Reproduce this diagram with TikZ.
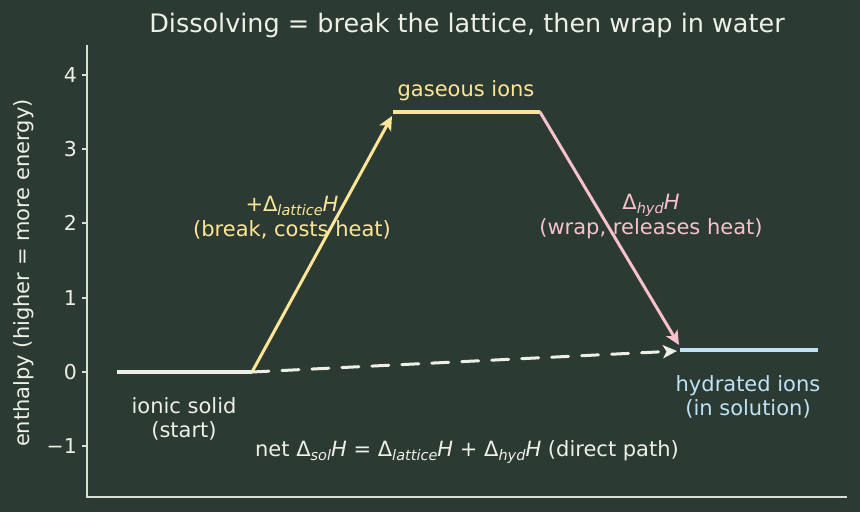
\documentclass[tikz,border=0pt]{standalone}
\usepackage{fontspec}
\setmainfont{DejaVu Sans}
\usetikzlibrary{arrows.meta}
\definecolor{bg}{HTML}{2B3A33}
\definecolor{fg}{HTML}{EEF0E6}
\definecolor{axc}{HTML}{D8DDD6}
\definecolor{yel}{HTML}{FFE596}
\definecolor{pnk}{HTML}{F8C1CB}
\definecolor{blu}{HTML}{BFE2F5}
\newcommand{\ssub}[1]{\raisebox{-3.5pt}{\fontsize{14.5}{16}\selectfont\itshape #1}}
\begin{document}
\begin{tikzpicture}[x=1pt,y=-1pt,
  lvl/.style={line width=3.2pt},
  arr/.style={line width=3pt,line cap=round,-{Stealth[length=14pt,width=13pt,inset=3.5pt]}},
  lab/.style={font=\fontsize{21}{24}\selectfont,align=center,inner sep=0pt},
  tick/.style={font=\fontsize{20.5}{24}\selectfont,text=fg,anchor=east,inner sep=0pt}]
\fill[bg] (0,0) rectangle (860,512);
\useasboundingbox (0,0) rectangle (860,512);
% axes
\draw[axc,line width=1.1pt] (87,45) -- (87,497) -- (847,497);
\foreach \v/\yy in {4/75,3/149,2/223,1/298,0/372,{\textminus1}/446}{
  \draw[axc,line width=1.1pt] (82,\yy) -- (87,\yy);
  \node[tick] at (77,\yy) {\v};
}
\node[rotate=90,font=\fontsize{21}{24}\selectfont,text=fg,inner sep=0pt] (ylab) at (24,273) {enthalpy (higher = more energy)};
\node[font=\fontsize{25.5}{30}\selectfont,text=fg,inner sep=0pt] (title) at (467,25) {Dissolving = break the lattice, then wrap in water};
% levels
\coordinate (s1) at (117,372); \coordinate (s2) at (252,372);
\coordinate (g1) at (393,112); \coordinate (g2) at (540,112);
\coordinate (h1) at (680,350); \coordinate (h2) at (818,350);
\draw[lvl,fg] (s1) -- (s2);
\draw[lvl,yel] (g1) -- (g2);
\draw[lvl,blu] (h1) -- (h2);
% arrows
\coordinate (ya) at (392,116);
\coordinate (pa) at (679,345);
\coordinate (da) at (677,351);
\draw[arr,yel] (s2) -- (ya);
\draw[arr,pnk] (g2) -- (pa);
\draw[arr,fg,dash pattern=on 17pt off 13pt] (s2) -- (da);
% labels
\node[lab,text=yel] (gl) at (466,91) {gaseous ions};
\node[lab,text=yel] (ll) at (292,218) {+Δ\ssub{lattice}\textit{H}\\[1pt](break, costs heat)};
\node[lab,text=pnk] (hl) at (651,217) {Δ\ssub{hyd}\textit{H}\\[1pt](wrap, releases heat)};
\node[lab,text=fg] (il) at (184,419) {ionic solid\\(start)};
\node[lab,text=blu] (hyl) at (748,397) {hydrated ions\\(in solution)};
\node[lab,text=fg] (net) at (467,452) {net Δ\ssub{sol}\textit{H} = Δ\ssub{lattice}\textit{H} + Δ\ssub{hyd}\textit{H} (direct path)};
\end{tikzpicture}
\end{document}
